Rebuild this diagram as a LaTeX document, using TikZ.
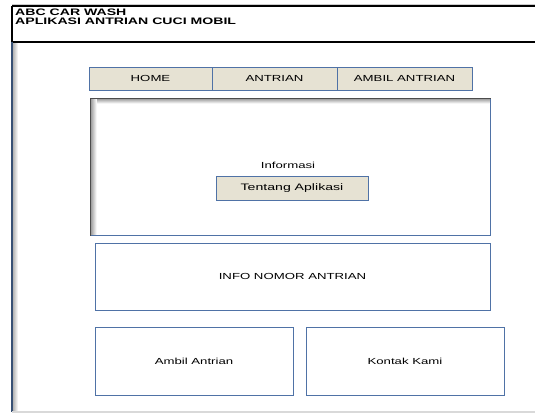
\documentclass[tikz,border=0pt]{standalone}
\usepackage{fontspec}
\setmainfont{Liberation Sans}[FakeStretch=1.5]
\definecolor{frameblue}{HTML}{4F72A6}
\definecolor{tabfill}{HTML}{E6E2D3}
\begin{document}
\begin{tikzpicture}[x=1pt,y=-1pt,font=\fontsize{8.8}{10}\selectfont]
\tikzset{panel/.style={draw=frameblue,line width=1pt,rectangle,inner sep=0pt},
	tab/.style={panel,fill=tabfill,minimum height=23pt}}
\useasboundingbox (0,0) rectangle (535,413);
% window frame
\shade[left color=gray!70,right color=white] (12,42) rectangle (18,412);
\draw[gray!40,line width=1pt] (12,4) -- (535,4);
\draw[black,line width=1.3pt] (12,6) -- (535,6);
\draw[black,line width=1.3pt] (12,42) -- (535,42);
\draw[black,line width=1.3pt] (12,6) -- (12,42);
\draw[frameblue!70!black,line width=1.8pt] (12,42) -- (12,412);
\draw[gray!30,line width=1.5pt] (12,412) -- (535,412);
\node[anchor=north west,align=left,inner sep=0pt,font=\fontsize{9.4}{9.2}\selectfont\bfseries]
	(judul) at (15,8.5) {ABC CAR WASH\\APLIKASI ANTRIAN CUCI MOBIL};
% menu
\node[tab,minimum width=123pt] (home) at (150.5,78.5) {HOME};
\node[tab,minimum width=125pt] (antrian) at (274.5,78.5) {ANTRIAN};
\node[tab,minimum width=135pt] (ambil) at (404.5,78.5) {AMBIL ANTRIAN};
% informasi
\node[panel,minimum width=399pt,minimum height=136pt] (info) at (290.5,167) {};
\shade[top color=gray!80,bottom color=white] (info.north west) rectangle ++(399,5);
\shade[left color=gray!80,right color=white] (info.north west) rectangle ++(6,136);
\draw[frameblue,line width=1pt] (info.north west) rectangle (info.south east);
\draw[black!70,line width=1.8pt] (info.south west) -- (info.north west) -- (info.north east);
\node (informasi) at (288,165) {Informasi};
\node[tab,minimum width=152pt,minimum height=24pt,font=\fontsize{9.4}{10}\selectfont]
	(tentang) at (292,188) {Tentang Aplikasi};
% nomor antrian
\node[panel,minimum width=395pt,minimum height=67pt] (nomor) at (292.5,276.5) {INFO NOMOR ANTRIAN};
\node[panel,minimum width=198pt,minimum height=68pt] (ambilbox) at (194,361) {Ambil Antrian};
\node[panel,minimum width=198pt,minimum height=68pt] (kontak) at (405,361) {Kontak Kami};
\end{tikzpicture}
\end{document}
